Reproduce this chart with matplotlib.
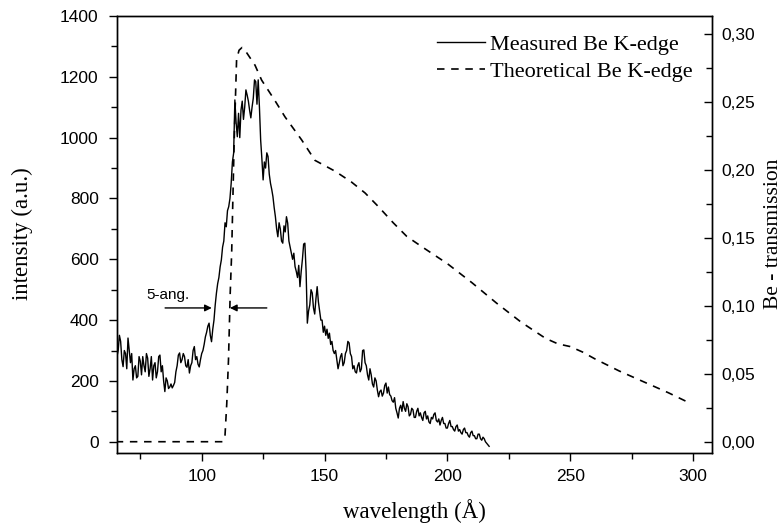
import numpy as np
import matplotlib
matplotlib.use("Agg")
import matplotlib.pyplot as plt
from matplotlib.ticker import MultipleLocator, FixedLocator, FixedFormatter

# ---------------- data ----------------
# measured intensity, sampled every 0.5 Å starting at 65 Å
meas_x_start = 65.0
meas_x_step = 0.5
meas_intensity = [
    345, 280, 300, 350, 330, 270, 247, 300, 290, 240,     # 65
    341, 300, 260, 290, 203, 240, 250, 210, 215, 280,     # 70
    265, 220, 280, 250, 230, 290, 275, 215, 240, 280,     # 75
    203, 250, 260, 210, 230, 280, 285, 230, 250, 200,     # 80
    165, 210, 200, 175, 180, 190, 177, 185, 195, 230,     # 85
    250, 285, 292, 260, 270, 290, 280, 250, 245, 270,     # 90
    226, 250, 260, 300, 313, 270, 280, 255, 246, 270,     # 95
    290, 300, 320, 345, 360, 380, 390, 350, 329, 370,     # 100
    400, 450, 489, 520, 540, 575, 598, 640, 660, 720,     # 105
    707, 760, 773, 800, 850, 920, 949, 1124, 1050, 1003,  # 110
    1080, 1000, 1091, 1120, 1060, 1100, 1157, 1140, 1120, 1090,  # 115
    1065, 1100, 1130, 1190, 1184, 1110, 1190, 1100, 992, 930,    # 120
    861, 920, 900, 950, 938, 880, 850, 830, 806, 770,     # 125
    740, 700, 674, 720, 700, 660, 653, 710, 690, 740,     # 130
    719, 660, 640, 620, 600, 620, 576, 560, 540, 580,     # 135
    510, 560, 600, 650, 653, 560, 390, 430, 450, 500,     # 140
    489, 440, 420, 470, 510, 460, 430, 400, 400, 360,     # 145
    380, 350, 370, 340, 357, 320, 330, 300, 290, 300,     # 150
    270, 240, 259, 280, 290, 250, 260, 290, 300, 330,     # 155
    325, 290, 280, 240, 250, 230, 226, 250, 260, 230,     # 160
    240, 300, 302, 260, 250, 220, 203, 240, 220, 190,     # 165
    180, 210, 200, 170, 148, 165, 170, 150, 160, 185,     # 170
    193, 160, 180, 155, 150, 135, 130, 145, 110, 95,      # 175
    78, 110, 120, 100, 132, 110, 100, 125, 115, 85,       # 180
    90, 110, 105, 80, 80, 100, 110, 85, 95, 80,           # 185
    70, 95, 100, 75, 85, 65, 60, 80, 75, 90,              # 190
    95, 70, 65, 75, 55, 70, 80, 60, 60, 45,               # 195
    45, 60, 70, 50, 50, 40, 35, 50, 55, 35,               # 200
    40, 30, 25, 40, 45, 30, 30, 20, 15, 30,               # 205
    35, 20, 20, 10, 10, 25, 25, 10, 5, 15,                # 210
    10, 0, -5, -10, -15,                                  # 215
]
meas_wavelength = meas_x_start + meas_x_step * np.arange(len(meas_intensity))

theo_wavelength = [65, 108.5, 109.5, 110.2, 110.9, 111.6, 112.2, 113.2, 114.2,
                   115.2, 116.4, 118.0, 121.7, 124.4, 129.8, 133.9, 140.7,
                   146.1, 154.3, 161.0, 166.5, 171.9, 178.0, 183.5, 190, 200,
                   210, 220, 230, 240, 245, 250, 255, 260, 270, 280, 290, 298]
theo_transmission = [0.0, 0.0, 0.005, 0.028, 0.060, 0.109, 0.139, 0.220, 0.281,
                     0.288, 0.290, 0.287, 0.277, 0.266, 0.251, 0.239, 0.222,
                     0.207, 0.199, 0.191, 0.183, 0.173, 0.161, 0.151, 0.143, 0.131,
                     0.117, 0.102, 0.088, 0.076, 0.072, 0.070, 0.066, 0.061,
                     0.052, 0.044, 0.036, 0.029]

left_ticks = [0, 200, 400, 600, 800, 1000, 1200, 1400]
bottom_ticks = [100, 150, 200, 250, 300]
right_ticks = [0.00, 0.05, 0.10, 0.15, 0.20, 0.25, 0.30]
right_tick_labels = ["0,00", "0,05", "0,10", "0,15", "0,20", "0,25", "0,30"]

# ---------------- figure ----------------
W, H, DPI = 783, 527, 100
fig = plt.figure(figsize=(W / DPI, H / DPI), dpi=DPI)
ax_l, ax_r_px, ax_t, ax_b = 116.7, 711.7, 16.0, 453.0
ax = fig.add_axes([ax_l / W, 1 - ax_b / H, (ax_r_px - ax_l) / W, (ax_b - ax_t) / H])
ax2 = ax.twinx()

serif = ["Liberation Serif", "DejaVu Serif"]
sans = ["Liberation Sans", "DejaVu Sans"]

l1, = ax.plot(meas_wavelength, meas_intensity, color="black", lw=1.0,
              label="Measured Be K-edge")
l2, = ax2.plot(theo_wavelength, theo_transmission, color="black", lw=1.2,
               linestyle=(0, (4.5, 4)), label="Theoretical Be K-edge")

ax.set_xlim(65.4, 307.6)
ax.set_ylim(-37, 1400)
ax2.set_ylim(-0.0083, 0.3132)

# ticks
ax.xaxis.set_major_locator(FixedLocator(bottom_ticks))
ax.xaxis.set_minor_locator(MultipleLocator(25))
ax.yaxis.set_major_locator(FixedLocator(left_ticks))
ax.yaxis.set_minor_locator(MultipleLocator(100))
ax2.yaxis.set_major_locator(FixedLocator(right_ticks))
ax2.yaxis.set_major_formatter(FixedFormatter(right_tick_labels))
ax2.yaxis.set_minor_locator(MultipleLocator(0.025))

ax.tick_params(axis="x", which="major", direction="out", length=5.5, width=1.0,
               pad=6, labelsize=12.5, top=False)
ax.tick_params(axis="x", which="minor", direction="out", length=4, width=1.0, top=False)
ax.tick_params(axis="y", which="major", direction="out", length=6, width=1.0,
               pad=7, labelsize=12.5, right=False)
ax.tick_params(axis="y", which="minor", direction="out", length=4.5, width=1.0, right=False)
ax2.tick_params(axis="y", which="major", direction="in", length=6, width=1.0,
                pad=7, labelsize=12.5)
ax2.tick_params(axis="y", which="minor", direction="in", length=4.5, width=1.0)

for lab in ax.get_xticklabels() + ax.get_yticklabels() + ax2.get_yticklabels():
    lab.set_fontfamily(sans)

for a in (ax, ax2):
    for s in a.spines.values():
        s.set_linewidth(1.0)

ax.set_xlabel("wavelength (Å)", fontsize=16.5, family=serif, labelpad=11)
fig.text(22 / W, 1 - 234 / H, "intensity (a.u.)", fontsize=16.5, family=serif,
         rotation=90, ha="center", va="center")
fig.text(773 / W, 1 - 234 / H, "Be - transmission", fontsize=15.5, family=serif,
         rotation=90, ha="center", va="center")

# annotation: 5-ang. with arrows
arrow_y = 440
ax.annotate("", xy=(104.1, arrow_y), xytext=(85.1, arrow_y),
            arrowprops=dict(arrowstyle="-|>", color="black", lw=1.0,
                            mutation_scale=10, shrinkA=0, shrinkB=0))
ax.annotate("", xy=(111.5, arrow_y), xytext=(126.5, arrow_y),
            arrowprops=dict(arrowstyle="-|>", color="black", lw=1.0,
                            mutation_scale=10, shrinkA=0, shrinkB=0))
ax.text(77.3, 482, "5-ang.", fontsize=11, family=sans, ha="left", va="center")

leg = ax.legend(handles=[l1, l2], loc="upper left", bbox_to_anchor=(0.538, 0.958),
                frameon=False, prop={"family": serif, "size": 16},
                handlelength=2.16, handletextpad=0.22, labelspacing=0.3,
                borderaxespad=0.0, borderpad=0.0)

fig.savefig("out.png", dpi=DPI)
